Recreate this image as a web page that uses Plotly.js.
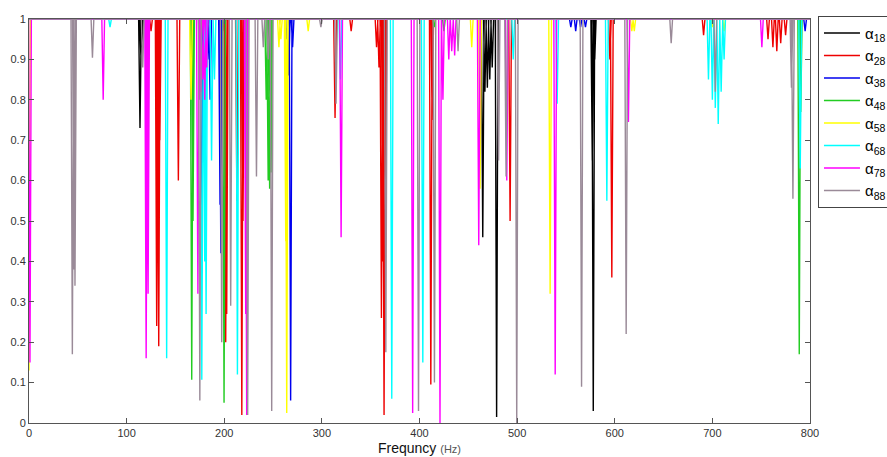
<!DOCTYPE html>
<html>
<head>
<meta charset="utf-8">
<script src="https://cdn.plot.ly/plotly-3.0.1.min.js"></script>
<style>html,body{margin:0;padding:0;background:#fff;overflow:hidden;}#chart{width:887px;height:457px;}</style>
</head>
<body>
<div id="chart"></div>
<script>
// Series names (legend)
var seriesNames = ["α<sub>18</sub>&nbsp;&nbsp;", "α<sub>28</sub>&nbsp;&nbsp;", "α<sub>38</sub>&nbsp;&nbsp;", "α<sub>48</sub>&nbsp;&nbsp;", "α<sub>58</sub>&nbsp;&nbsp;", "α<sub>68</sub>&nbsp;&nbsp;", "α<sub>78</sub>&nbsp;&nbsp;", "α<sub>88</sub>&nbsp;&nbsp;"];
var seriesColors = ["#000000", "#ee0000", "#0000ee", "#22cc22", "#ffff00", "#00ffff", "#ff00ff", "#9a8a98"];

// Dip frequencies (Hz) and minimum values, per series
var a18Freq = [113.7, 114.6, 115.6, 200, 464.8, 467, 469.5, 472, 474.5, 479, 577, 578, 579.5];
var a18Min  = [0.73, 0.91, 0.93, 0.97, 0.46, 0.82, 0.83, 0.85, 0.88, 0.015, 0.65, 0.03, 0.9];

var a28Freq = [125, 130.8, 131.8, 132.9, 134, 153, 201.5, 202.5, 213, 218, 219.2, 313.5, 330, 356, 358.5, 361, 362.5, 363.7, 365, 411.6, 413, 492.8, 595, 597, 691, 757, 762, 766, 770, 775];
var a28Min  = [0.97, 0.24, 0.44, 0.19, 0.7, 0.60, 0.20, 0.27, 0.55, 0.02, 0.5, 0.755, 0.97, 0.93, 0.88, 0.26, 0.4, 0.02, 0.4, 0.095, 0.75, 0.50, 0.9, 0.36, 0.96, 0.95, 0.93, 0.92, 0.94, 0.96];

var a38Freq = [177, 178.6, 180, 183, 185.5, 195.7, 196.5, 264, 266, 268, 270, 555, 560, 565, 570, 795];
var a38Min  = [0.37, 0.70, 0.88, 0.9, 0.80, 0.54, 0.42, 0.95, 0.86, 0.056, 0.93, 0.98, 0.97, 0.98, 0.98, 0.97];

var a48Freq = [166.7, 168, 199.8, 243, 245, 246.5, 248, 415, 425, 789, 790.5];
var a48Min  = [0.107, 0.5, 0.05, 0.8, 0.60, 0.58, 0.62, 0.98, 0.97, 0.17, 0.77];

var a58Freq = [0, 166, 256, 258, 263, 264, 286, 453.5, 462, 533.8, 617.5, 620, 700, 712];
var a58Min  = [0.13, 0.80, 0.93, 0.95, 0.45, 0.025, 0.97, 0.93, 0.58, 0.32, 0.97, 0.97, 0.98, 0.97];

var a68Freq = [83, 141, 177, 180, 181.4, 187, 190, 213.5, 319, 371.6, 403.4, 496, 541, 591.9, 696, 700, 703, 706, 709, 712, 790];
var a68Min  = [0.98, 0.16, 0.107, 0.4, 0.27, 0.65, 0.85, 0.12, 0.85, 0.06, 0.15, 0.9, 0.79, 0.55, 0.85, 0.8, 0.78, 0.74, 0.82, 0.9, 0.63];

var a78Freq = [1, 76, 120, 121, 122, 173, 175, 176, 178, 180, 182, 222, 223, 319.7, 393, 421, 424, 430, 433, 436, 460.7, 489.4, 539, 614, 750.7];
var a78Min  = [0.15, 0.80, 0.16, 0.44, 0.32, 0.32, 0.8, 0.82, 0.85, 0.8, 0.88, 0.27, 0.02, 0.46, 0.025, 0.0, 0.80, 0.9, 0.92, 0.91, 0.44, 0.60, 0.12, 0.745, 0.93];

var a88Freq = [44.4, 46, 47.1, 65, 116.5, 175, 197.4, 206.6, 224, 233, 240, 245, 248.6, 299, 314.5, 365.5, 399, 415.3, 439.5, 481, 488.7, 499.6, 566, 611.7, 657.8, 703, 781, 782.5];
var a88Min  = [0.17, 0.38, 0.34, 0.904, 0.88, 0.056, 0.20, 0.29, 0.02, 0.61, 0.93, 0.9, 0.03, 0.98, 0.79, 0.175, 0.03, 0.10, 0.92, 0.65, 0.61, 0.0, 0.09, 0.22, 0.94, 0.82, 0.83, 0.555];

var xTickVals = [0, 100, 200, 300, 400, 500, 600, 700, 800];
var yTickVals = [0, 0.1, 0.2, 0.3, 0.4, 0.5, 0.6, 0.7, 0.8, 0.9, 1];

var allFreq = [a18Freq, a28Freq, a38Freq, a48Freq, a58Freq, a68Freq, a78Freq, a88Freq];
var allMin  = [a18Min, a28Min, a38Min, a48Min, a58Min, a68Min, a78Min, a88Min];

var HALF = 1.4; // half-width of a dip drawn as a V (Hz)

function buildTrace(freqs, mins, name, color, idx) {
  var pairs = freqs.map(function (f, i) { return [f, mins[i]]; }).sort(function (a, b) { return a[0] - b[0]; });
  var xs = [0], ys = [1];
  pairs.forEach(function (p) {
    xs.push(p[0] - HALF, p[0], p[0] + HALF);
    ys.push(1, p[1], 1);
  });
  xs.push(800); ys.push(1);
  return {
    type: 'scatter', mode: 'lines', x: xs, y: ys, name: name,
    legendgroup: 'g' + idx,
    line: { color: color, width: 1.4 },
    hoverinfo: 'skip'
  };
}

var traces = allFreq.map(function (f, i) { return buildTrace(f, allMin[i], seriesNames[i], seriesColors[i], i); });

var axisCommon = {
  showline: true, linecolor: '#555', linewidth: 1, mirror: 'ticks',
  ticks: 'inside', ticklen: 5, tickcolor: '#555', showgrid: false, zeroline: false,
  tickfont: { family: 'Liberation Sans, Arial, sans-serif', size: 11, color: '#333' }
};

var layout = {
  width: 887, height: 457,
  margin: { l: 29, r: 77, t: 19, b: 34, autoexpand: false },
  paper_bgcolor: '#ffffff', plot_bgcolor: '#ffffff',
  showlegend: true,
  legend: {
    x: 1.0102, xanchor: 'left', y: 1.008, yanchor: 'top',
    bordercolor: '#444', borderwidth: 1, bgcolor: '#ffffff',
    tracegroupgap: 5.6, traceorder: 'normal', itemwidth: 36,
    font: { family: 'Liberation Sans, Arial, sans-serif', size: 15, color: '#000' }
  },
  xaxis: Object.assign({}, axisCommon, {
    range: [0, 800], tickvals: xTickVals, ticktext: xTickVals.map(String),
    title: { text: "Frequncy <span style='font-size:11px;color:#555'>(Hz)</span>", font: { family: 'Liberation Sans, Arial, sans-serif', size: 14, color: '#111' }, standoff: 4 }
  }),
  yaxis: Object.assign({}, axisCommon, {
    range: [0, 1], tickvals: yTickVals, ticktext: yTickVals.map(function (v) { return String(v); })
  })
};

Plotly.newPlot('chart', traces, layout, { displayModeBar: false, staticPlot: true });
</script>
</body>
</html>
